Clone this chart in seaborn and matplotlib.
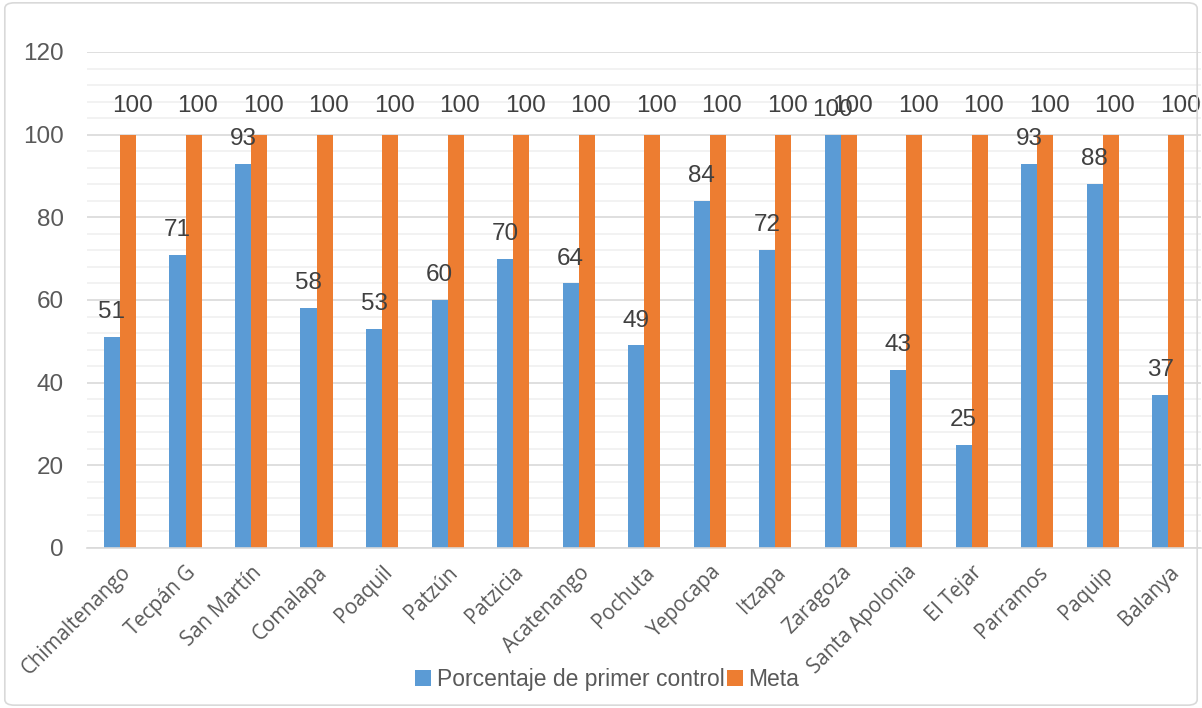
import matplotlib
matplotlib.use("Agg")
import matplotlib.pyplot as plt
import seaborn as sns
import pandas as pd
from matplotlib.ticker import MultipleLocator
from matplotlib.patches import FancyBboxPatch

categories = ["Chimaltenango", "Tecpán G", "San Martín", "Comalapa", "Poaquil", "Patzún",
              "Patzicia", "Acatenango", "Pochuta", "Yepocapa", "Itzapa", "Zaragoza",
              "Santa Apolonia", "El Tejar", "Parramos", "Paquip", "Balanya"]
porcentaje = [51, 71, 93, 58, 53, 60, 70, 64, 49, 84, 72, 100, 43, 25, 93, 88, 37]
meta = [100] * 17
series_names = ["Porcentaje de primer control", "Meta"]
yticks = [0, 20, 40, 60, 80, 100, 120]

df = pd.DataFrame({
    "cat": categories * 2,
    "val": porcentaje + meta,
    "serie": [series_names[0]] * len(categories) + [series_names[1]] * len(categories),
})

sns.set_theme(style="white")
text_color = "#595959"

fig = plt.figure(figsize=(12.02, 7.08), dpi=100)
ax = fig.add_axes([0.0726, 0.226, 0.9265, 0.7006])

sns.barplot(data=df, x="cat", y="val", hue="serie", order=categories,
            hue_order=series_names, palette=["#5B9BD5", "#ED7D31"],
            width=0.49, saturation=1, ax=ax, legend=True, errorbar=None,
            linewidth=0)

ax.set_ylim(0, 120)
ax.set_yticks(yticks)
ax.yaxis.set_minor_locator(MultipleLocator(4))
ax.grid(axis="y", which="major", color="#D9D9D9", lw=1.2, zorder=0)
ax.grid(axis="y", which="minor", color="#F0F0F0", lw=1.2, zorder=0)
ax.set_axisbelow(True)
for s in ["top", "right", "left"]:
    ax.spines[s].set_visible(False)
ax.spines["bottom"].set_color("#D9D9D9")
ax.spines["bottom"].set_linewidth(1.2)
ax.tick_params(axis="both", which="both", length=0, colors=text_color)
ax.set_xlabel("")
ax.set_ylabel("")

for lbl in ax.get_yticklabels():
    lbl.set_fontfamily("Liberation Sans")
    lbl.set_fontsize(17.5)
    lbl.set_color(text_color)
ax.tick_params(axis="y", pad=17)

ax.set_xticks(range(len(categories)))
ax.set_xticklabels(categories, rotation=45, ha="right", rotation_mode="anchor",
                   fontfamily="Open Sans", fontsize=14.8, color=text_color)
ax.tick_params(axis="x", pad=10)

# data labels
offsets = [(0, 10), (3, 13)]
for cont, (dx, dy) in zip(ax.containers, offsets):
    for p in cont.patches:
        h = p.get_height()
        ax.annotate(f"{h:.0f}", (p.get_x() + p.get_width() / 2, h),
                    xytext=(dx, dy), textcoords="offset points",
                    ha="center", va="bottom", fontfamily="Liberation Sans",
                    fontsize=17.5, color="#404040", annotation_clip=False)

leg = ax.get_legend()
leg.remove()
handles, labels = ax.get_legend_handles_labels()
fig.legend(handles[:2], labels[:2], loc="center", bbox_to_anchor=(0.505, 0.040),
           ncol=2, frameon=False, handlelength=0.7, handleheight=0.7,
           handletextpad=0.25, columnspacing=0.1,
           prop={"family": "Liberation Sans", "size": 16.5}, labelcolor=text_color)

fig.patches.append(FancyBboxPatch((0.004, 0.004), 0.992, 0.992,
                                  boxstyle="round,pad=0,rounding_size=0.008",
                                  transform=fig.transFigure, fill=False,
                                  edgecolor="#D9D9D9", lw=1.2))

fig.savefig("out.png", dpi=100)
